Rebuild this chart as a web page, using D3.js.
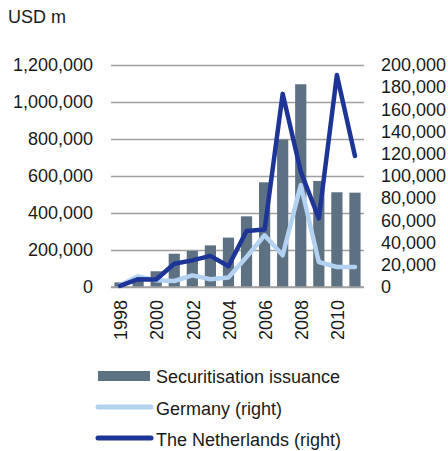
<!DOCTYPE html>
<html>
<head>
<meta charset="utf-8">
<script src="https://cdn.jsdelivr.net/npm/d3@7"></script>
<style>
  body { margin: 0; background: #fff; }
  svg { display: block; font-family: "Liberation Sans", Arial, sans-serif; }
</style>
</head>
<body>
<svg id="chart" width="448" height="451"></svg>
<script>
const years = ['1998', '1999', '2000', '2001', '2002', '2003', '2004', '2005', '2006', '2007', '2008', '2009', '2010', '2011'];
const issuance = [25000, 45000, 85000, 180000, 195000, 225000, 267000, 382000, 566000, 797000, 1096000, 573000, 512000, 510000];
const germany = [1500, 9600, 6000, 5400, 10500, 7000, 8500, 27000, 46600, 28600, 91800, 22500, 18000, 18000];
const netherlands = [1000, 7000, 6700, 21000, 24000, 28000, 18700, 50500, 51800, 174000, 104000, 61700, 191000, 118000];
const leftTicks = [0, 200000, 400000, 600000, 800000, 1000000, 1200000];
const rightTicks = [0, 20000, 40000, 60000, 80000, 100000, 120000, 140000, 160000, 180000, 200000];
const yearLabels = ['1998', '2000', '2002', '2004', '2006', '2008', '2010'];

const svg = d3.select('#chart');
const plot = { left: 111, right: 364, top: 65, bottom: 287 };
const fmt = d3.format(',');
const fontSize = 18;

const x = d3.scaleBand().domain(years).range([plot.left, plot.right]).paddingInner(0.38).paddingOuter(0.19);
const yL = d3.scaleLinear().domain([0, 1200000]).range([plot.bottom, plot.top]);
const yR = d3.scaleLinear().domain([0, 200000]).range([plot.bottom, plot.top]);

// gridlines
svg.append('g')
    .selectAll('line')
    .data(leftTicks)
    .enter()
    .append('line')
    .attr('x1', plot.left)
    .attr('x2', plot.right)
    .attr('y1', d => Math.round(yL(d)) + 0.5)
    .attr('y2', d => Math.round(yL(d)) + 0.5)
    .attr('stroke', '#a0a0a0')
    .attr('stroke-width', 1.5);

// left axis labels
const leftAxis = d3.axisLeft(yL).tickValues(leftTicks).tickFormat(fmt).tickSize(0).tickPadding(18);
svg.append('g')
    .attr('transform', `translate(${plot.left},0)`)
    .call(leftAxis)
    .call(g => g.select('.domain').remove())
    .selectAll('text')
    .attr('font-size', fontSize)
    .attr('font-family', '"Liberation Sans", Arial, sans-serif')
    .attr('fill', '#1a1a1a');

// right axis labels
const rightAxis = d3.axisRight(yR).tickValues(rightTicks).tickFormat(fmt).tickSize(0).tickPadding(17);
svg.append('g')
    .attr('transform', `translate(${plot.right},0)`)
    .call(rightAxis)
    .call(g => g.select('.domain').remove())
    .selectAll('text')
    .attr('font-size', fontSize)
    .attr('font-family', '"Liberation Sans", Arial, sans-serif')
    .attr('fill', '#1a1a1a');

// bars
svg.append('g')
    .selectAll('rect')
    .data(years)
    .enter()
    .append('rect')
    .attr('x', d => x(d))
    .attr('width', x.bandwidth())
    .attr('y', (d, i) => yL(issuance[i]))
    .attr('height', (d, i) => plot.bottom - yL(issuance[i]))
    .attr('fill', '#5e7183');

// baseline
svg.append('line')
    .attr('x1', plot.left)
    .attr('x2', plot.right)
    .attr('y1', plot.bottom)
    .attr('y2', plot.bottom)
    .attr('stroke', '#a0a0a0')
    .attr('stroke-width', 1.5);

const cx = d => x(d) + x.bandwidth() / 2;

const lineGen = d3.line().x((d, i) => cx(years[i])).y(d => yR(d));
svg.append('path')
    .datum(germany)
    .attr('d', lineGen)
    .attr('fill', 'none')
    .attr('stroke', '#b3d1f0')
    .attr('stroke-width', 4.5)
    .attr('stroke-linejoin', 'round')
    .attr('stroke-linecap', 'round');

svg.append('path')
    .datum(netherlands)
    .attr('d', lineGen)
    .attr('fill', 'none')
    .attr('stroke', '#1d3596')
    .attr('stroke-width', 4.5)
    .attr('stroke-linejoin', 'round')
    .attr('stroke-linecap', 'round');

// year labels
svg.append('g')
    .selectAll('text')
    .data(yearLabels)
    .enter()
    .append('text')
    .attr('transform', d => `translate(${cx(d) + 1},300) rotate(-90)`)
    .attr('text-anchor', 'end')
    .attr('dy', '0.35em')
    .attr('font-size', fontSize)
    .attr('fill', '#1a1a1a')
    .text(d => d);

// unit label
svg.append('text')
    .attr('x', 8)
    .attr('y', 23)
    .attr('font-size', fontSize)
    .attr('fill', '#1a1a1a')
    .text('USD m');

// legend
const legend = svg.append('g');
legend.append('rect')
    .attr('x', 98).attr('y', 371).attr('width', 52).attr('height', 10)
    .attr('fill', '#5e7183');
legend.append('line')
    .attr('x1', 98).attr('x2', 151).attr('y1', 407).attr('y2', 407)
    .attr('stroke', '#b3d1f0').attr('stroke-width', 5).attr('stroke-linecap', 'round');
legend.append('line')
    .attr('x1', 98).attr('x2', 151).attr('y1', 438).attr('y2', 438)
    .attr('stroke', '#1d3596').attr('stroke-width', 5).attr('stroke-linecap', 'round');
const legendText = ['Securitisation issuance', 'Germany (right)', 'The Netherlands (right)'];
legend.selectAll('text')
    .data(legendText)
    .enter()
    .append('text')
    .attr('x', 156)
    .attr('y', (d, i) => 383 + i * 31.5)
    .attr('font-size', fontSize)
    .attr('fill', '#1a1a1a')
    .text(d => d);
</script>
</body>
</html>
